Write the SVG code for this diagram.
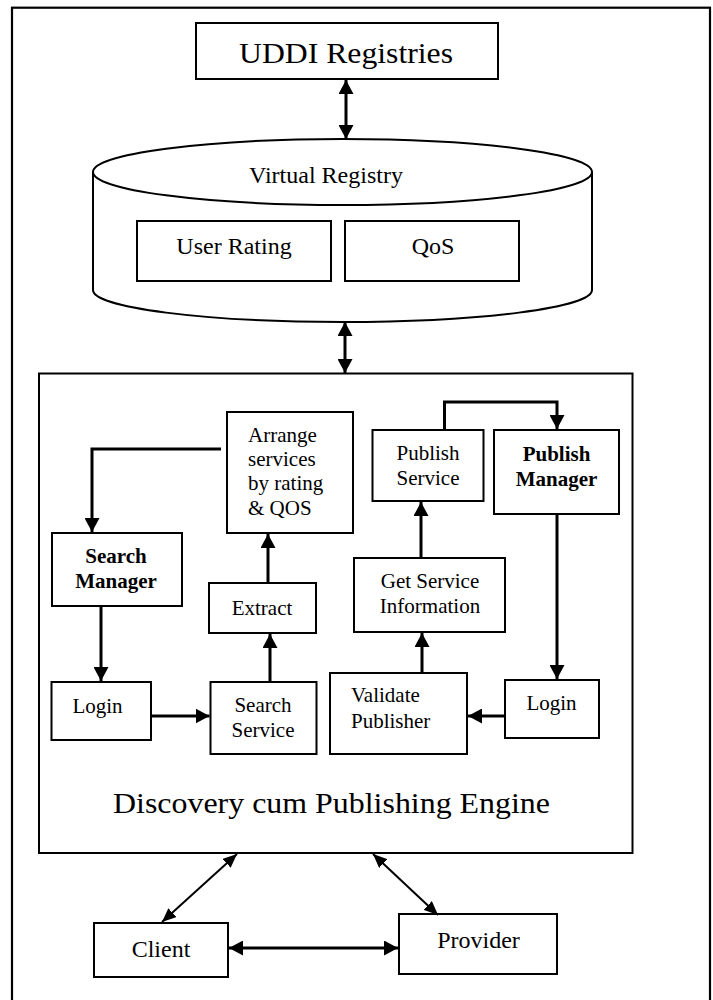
<svg xmlns="http://www.w3.org/2000/svg" width="713" height="1000" viewBox="0 0 713 1000">
<style>
.box{fill:#fff;stroke:#000;stroke-width:2}
.t{font-family:"Liberation Serif","Times New Roman",serif;fill:#000;font-size:21px}
.m{font-size:24px}
.L{font-size:30px}
.c{text-anchor:middle}
.b{font-weight:bold}
.ln{stroke:#000;stroke-width:3;fill:none}
.thin{stroke:#000;stroke-width:2;fill:none}
</style>
<defs>
<marker id="ah" markerUnits="userSpaceOnUse" markerWidth="14" markerHeight="15" refX="14" refY="7.5" orient="auto-start-reverse"><path d="M0,0 L14,7.5 L0,15 z" fill="#000"/></marker>
<marker id="as" markerUnits="userSpaceOnUse" markerWidth="14" markerHeight="12" refX="14" refY="6" orient="auto-start-reverse"><path d="M0,0 L14,6 L0,12 z" fill="#000"/></marker>
</defs>
<rect x="12" y="7.7" width="698" height="1010" fill="#fff" stroke="#000" stroke-width="2.2"/>

<g id="uddi"><rect class="box" x="196" y="23" width="302" height="56"/><text class="t c L" x="346" y="63" textLength="214" lengthAdjust="spacingAndGlyphs">UDDI Registries</text></g>

<g id="virtual-registry">
<path d="M93,172 L93,290 A249.5,32 0 0 0 592,290 L592,172" fill="#fff" stroke="#000" stroke-width="2"/>
<ellipse cx="342.5" cy="172" rx="249.5" ry="33" fill="#fff" stroke="#000" stroke-width="2"/>
<text class="t c m" x="326" y="183">Virtual Registry</text>
</g>
<g id="user-rating"><rect class="box" x="137" y="221" width="194" height="60"/><text class="t c m" x="234" y="254">User Rating</text></g>
<g id="qos"><rect class="box" x="345" y="221" width="174" height="60"/><text class="t c m" x="433" y="254">QoS</text></g>

<g id="engine"><rect class="box" x="39" y="373.5" width="593.5" height="479.5"/><text class="t c L" x="331.5" y="813" textLength="437" lengthAdjust="spacingAndGlyphs">Discovery cum Publishing Engine</text></g>

<g id="arrange"><rect class="box" x="227" y="412" width="126" height="121"/>
<text class="t" x="248" y="442">Arrange</text><text class="t" x="248" y="466">services</text><text class="t" x="248" y="490">by rating</text><text class="t" x="248" y="515">&amp; QOS</text></g>
<g id="search-manager"><rect class="box" x="52" y="533" width="130" height="73"/><text class="t c b" x="116" y="563">Search</text><text class="t c b" x="116" y="588">Manager</text></g>
<g id="extract"><rect class="box" x="209" y="583" width="107" height="50"/><text class="t c" x="262" y="615">Extract</text></g>
<g id="publish-service"><rect class="box" x="372.5" y="430" width="111" height="71"/><text class="t c" x="428" y="460">Publish</text><text class="t c" x="428" y="485">Service</text></g>
<g id="publish-manager"><rect class="box" x="494" y="430" width="125" height="84"/><text class="t c b" x="556.5" y="461">Publish</text><text class="t c b" x="556.5" y="486">Manager</text></g>
<g id="get-service-info"><rect class="box" x="354" y="558" width="151" height="74"/><text class="t c" x="430" y="588">Get Service</text><text class="t c" x="430" y="613">Information</text></g>
<g id="login-left"><rect class="box" x="51.5" y="682" width="99.5" height="58"/><text class="t c" x="97.5" y="713">Login</text></g>
<g id="search-service"><rect class="box" x="210.5" y="682" width="106" height="72"/><text class="t c" x="263" y="712">Search</text><text class="t c" x="263" y="737">Service</text></g>
<g id="validate-publisher"><rect class="box" x="330" y="673" width="137" height="81"/><text class="t" x="351" y="702">Validate</text><text class="t" x="351" y="728">Publisher</text></g>
<g id="login-right"><rect class="box" x="505" y="680" width="94" height="58"/><text class="t c" x="551.5" y="710">Login</text></g>

<g id="client"><rect class="box" x="94" y="923" width="134" height="54"/><text class="t c m" x="161" y="957">Client</text></g>
<g id="provider"><rect class="box" x="399" y="914" width="158" height="60"/><text class="t c m" x="478.5" y="948">Provider</text></g>

<g id="connectors">
<line class="ln" x1="346" y1="80" x2="346" y2="139" marker-start="url(#ah)" marker-end="url(#ah)"/>
<line class="ln" x1="345" y1="322" x2="345" y2="373" marker-start="url(#ah)" marker-end="url(#ah)"/>
<path class="ln" d="M221,449 H92 V532" marker-end="url(#ah)"/>
<path class="ln" d="M268,583 V534" marker-end="url(#ah)"/>
<path class="ln" d="M270,681 V634" marker-end="url(#ah)"/>
<path class="ln" d="M101,607 V681" marker-end="url(#ah)"/>
<path class="ln" d="M152,716 H209.5" marker-end="url(#ah)"/>
<path class="ln" d="M444.5,429 V402 H557 V429" marker-end="url(#ah)"/>
<path class="ln" d="M421,557 V502" marker-end="url(#ah)"/>
<path class="ln" d="M422,672 V633" marker-end="url(#ah)"/>
<path class="ln" d="M557,515 V679" marker-end="url(#ah)"/>
<path class="ln" d="M504,716 H468" marker-end="url(#ah)"/>
<line class="thin" x1="237" y1="854" x2="162" y2="922" marker-start="url(#as)" marker-end="url(#as)"/>
<line class="thin" x1="373" y1="854" x2="438" y2="915" marker-start="url(#as)" marker-end="url(#as)"/>
<line class="ln" x1="229" y1="948" x2="398" y2="948" marker-start="url(#ah)" marker-end="url(#ah)"/>
</g>
</svg>
